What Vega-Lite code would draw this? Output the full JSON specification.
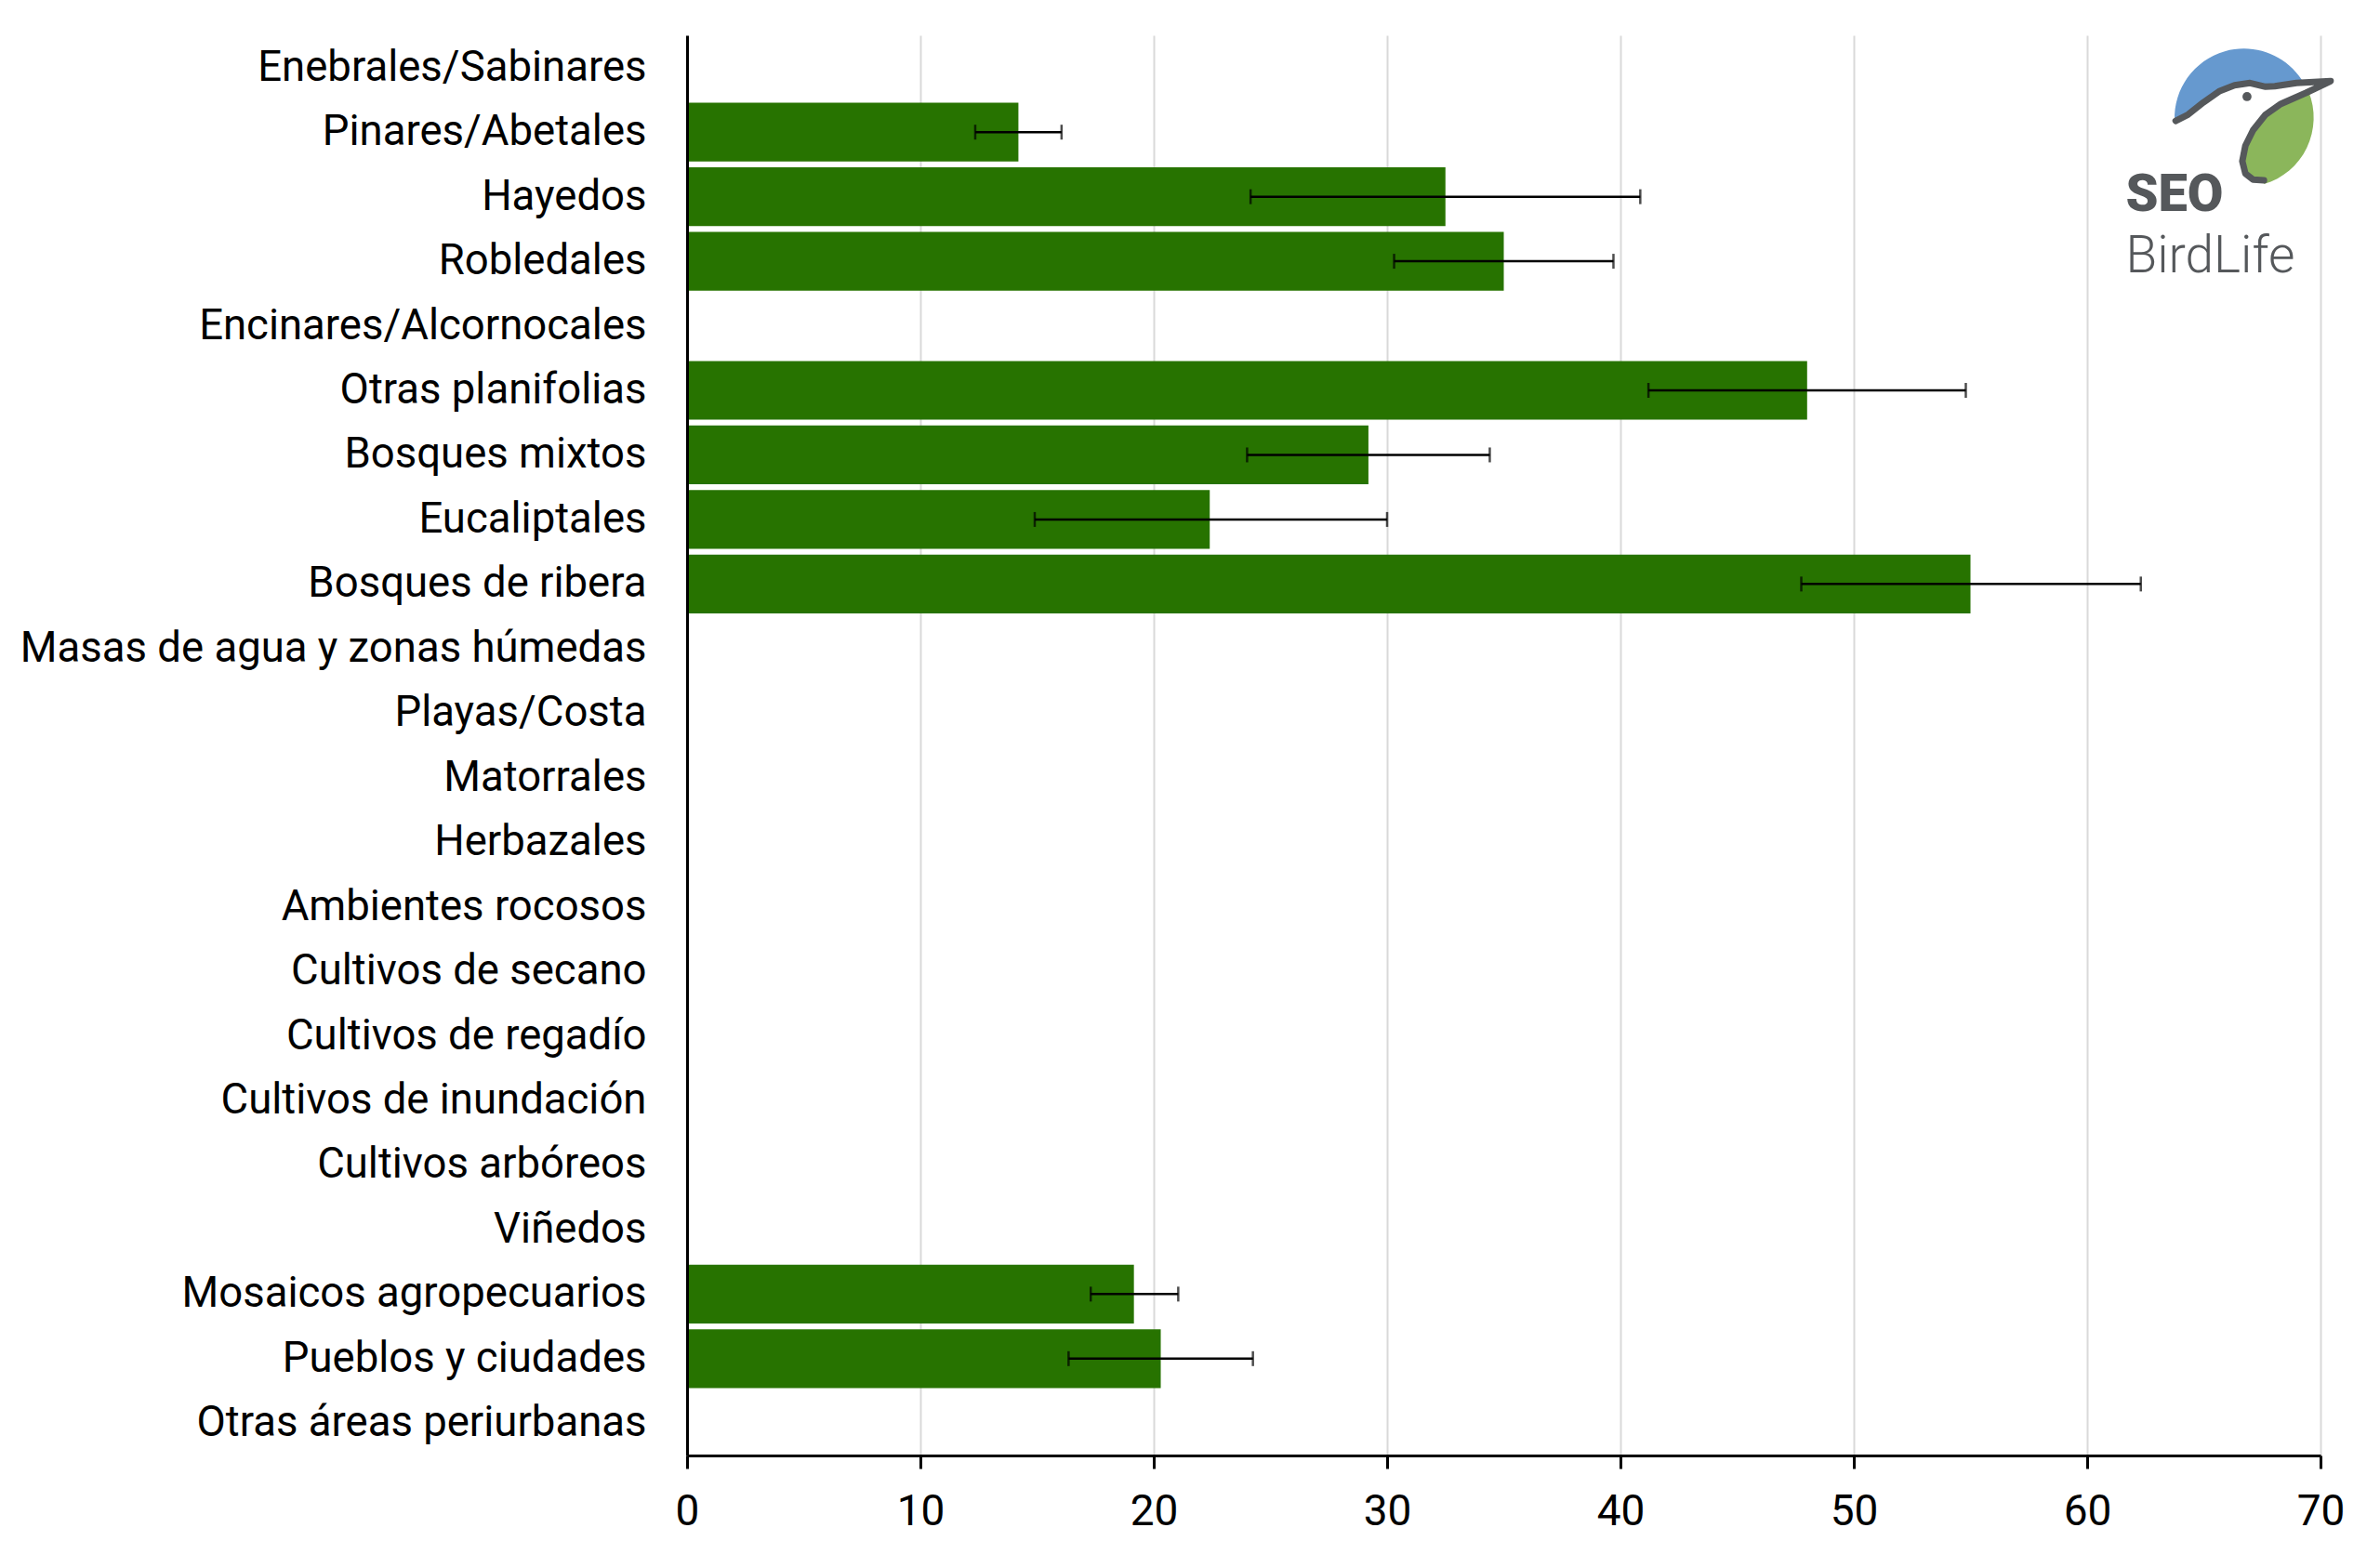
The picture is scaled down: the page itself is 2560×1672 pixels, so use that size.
{
  "$schema": "https://vega.github.io/schema/vega-lite/v6.json",
  "width": 1757,
  "height": 1528,
  "autosize": {"type": "none"},
  "padding": {"left": 739, "top": 38, "right": 64, "bottom": 106},
  "background": "white",
  "config": {"view": {"stroke": null}, "font": "Roboto"},
  "layer": [
    {
      "data": {
        "values": [
          {"cat": "Pinares/Abetales", "val": 14.2, "low": 12.35, "high": 16.05},
          {"cat": "Hayedos", "val": 32.5, "low": 24.15, "high": 40.85},
          {"cat": "Robledales", "val": 35.0, "low": 30.3, "high": 39.7},
          {"cat": "Otras planifolias", "val": 48.0, "low": 41.2, "high": 54.8},
          {"cat": "Bosques mixtos", "val": 29.2, "low": 24.0, "high": 34.4},
          {"cat": "Eucaliptales", "val": 22.4, "low": 14.9, "high": 30.0},
          {"cat": "Bosques de ribera", "val": 55.0, "low": 47.75, "high": 62.3},
          {"cat": "Mosaicos agropecuarios", "val": 19.15, "low": 17.3, "high": 21.05},
          {"cat": "Pueblos y ciudades", "val": 20.3, "low": 16.35, "high": 24.25}
        ]
      },
      "encoding": {
        "y": {
          "field": "cat",
          "type": "nominal",
          "scale": {
            "domain": [
              "Enebrales/Sabinares", "Pinares/Abetales", "Hayedos", "Robledales",
              "Encinares/Alcornocales", "Otras planifolias", "Bosques mixtos",
              "Eucaliptales", "Bosques de ribera", "Masas de agua y zonas húmedas",
              "Playas/Costa", "Matorrales", "Herbazales", "Ambientes rocosos",
              "Cultivos de secano", "Cultivos de regadío", "Cultivos de inundación",
              "Cultivos arbóreos", "Viñedos", "Mosaicos agropecuarios",
              "Pueblos y ciudades", "Otras áreas periurbanas"
            ],
            "paddingInner": 0.09,
            "paddingOuter": 0.045
          },
          "axis": {
            "title": null,
            "ticks": false,
            "grid": false,
            "domainColor": "black",
            "domainWidth": 3,
            "labelFont": "Roboto",
            "labelFontSize": 45.5,
            "labelColor": "black",
            "labelPadding": 44,
            "labelLimit": 1000,
            "zindex": 1
          }
        }
      },
      "layer": [
        {
          "mark": {"type": "bar", "color": "#277300"},
          "encoding": {
            "x": {
              "field": "val",
              "type": "quantitative",
              "scale": {"domain": [0, 70], "nice": false},
              "axis": {
                "title": null,
                "values": [0, 10, 20, 30, 40, 50, 60, 70],
                "grid": true,
                "gridColor": "#d9d9d9",
                "gridWidth": 2,
                "domainColor": "black",
                "domainWidth": 3,
                "tickColor": "black",
                "tickWidth": 3,
                "tickSize": 14,
                "labelFont": "Roboto",
                "labelFontSize": 46,
                "labelColor": "black",
                "labelPadding": 24,
                "labelFlush": false
              }
            }
          }
        },
        {
          "mark": {"type": "rule", "color": "black", "strokeWidth": 2.5},
          "encoding": {
            "x": {"field": "low", "type": "quantitative", "title": null},
            "x2": {"field": "high"}
          }
        },
        {
          "mark": {"type": "tick", "color": "black", "size": 16, "thickness": 2.5},
          "encoding": {"x": {"field": "low", "type": "quantitative", "title": null}}
        },
        {
          "mark": {"type": "tick", "color": "black", "size": 16, "thickness": 2.5},
          "encoding": {"x": {"field": "high", "type": "quantitative", "title": null}}
        }
      ]
    },
    {
      "data": {"values": [{"x": 66.98, "v": 1.224}]},
      "encoding": {
        "x": {"field": "x", "type": "quantitative", "title": null},
        "y": {
          "field": "v",
          "type": "quantitative",
          "scale": {"domain": [0, 22], "reverse": true, "nice": false},
          "axis": null
        }
      },
      "layer": [
        {
          "mark": {
            "type": "point",
            "filled": true,
            "fill": "#6699cf",
            "strokeWidth": 0,
            "opacity": 1,
            "size": 40000,
            "shape": "M -0.81 0.07 A 0.745 0.745 0 0 1 0.582 -0.33 L 0.5 -0.337 L 0.267 -0.303 L 0.167 -0.297 L 0 -0.337 L -0.167 -0.313 L -0.333 -0.247 L -0.5 -0.13 L -0.667 0.003 Z"
          }
        },
        {
          "mark": {
            "type": "point",
            "filled": true,
            "fill": "#8bb65b",
            "strokeWidth": 0,
            "opacity": 1,
            "size": 40000,
            "shape": "M 0.63 -0.245 A 0.745 0.745 0 0 1 0.15 0.75 L 0.15 0.71 L 0.033 0.703 L -0.05 0.637 L -0.083 0.503 L -0.05 0.337 L 0.033 0.17 L 0.167 0.003 L 0.333 -0.113 L 0.6 -0.23 Z"
          }
        },
        {
          "mark": {
            "type": "point",
            "filled": false,
            "stroke": "#55585b",
            "strokeWidth": 7,
            "strokeJoin": "round",
            "strokeCap": "round",
            "opacity": 1,
            "size": 40000,
            "shape": "M -0.8 0.07 L -0.667 0.003 L -0.5 -0.13 L -0.333 -0.247 L -0.167 -0.313 L 0 -0.337 L 0.167 -0.297 L 0.267 -0.303 L 0.5 -0.337 L 0.867 -0.357 L 0.6 -0.23 L 0.333 -0.113 L 0.167 0.003 L 0.033 0.17 L -0.05 0.337 L -0.083 0.503 L -0.05 0.637 L 0.033 0.703 L 0.15 0.71"
          }
        }
      ]
    },
    {
      "data": {"values": [{"x": 66.85, "v": 0.95}]},
      "mark": {"type": "point", "shape": "circle", "filled": true, "color": "#55585b", "opacity": 1, "size": 95},
      "encoding": {
        "x": {"field": "x", "type": "quantitative", "title": null},
        "y": {"field": "v", "type": "quantitative", "scale": {"domain": [0, 22], "reverse": true, "nice": false}, "axis": null}
      }
    },
    {
      "data": {
        "values": [
          {"label": "SEO", "x": 61.65, "v": 2.72},
          {"label": "BirdLife", "x": 61.65, "v": 3.67}
        ]
      },
      "layer": [
        {
          "transform": [{"filter": "datum.label === 'SEO'"}],
          "mark": {"type": "text", "align": "left", "baseline": "alphabetic", "font": "Roboto", "fontWeight": 900, "fontSize": 56, "color": "#55585b"},
          "encoding": {
            "x": {"field": "x", "type": "quantitative", "title": null},
            "y": {"field": "v", "type": "quantitative", "scale": {"domain": [0, 22], "reverse": true, "nice": false}, "axis": null},
            "text": {"field": "label"}
          }
        },
        {
          "transform": [{"filter": "datum.label === 'BirdLife'"}],
          "mark": {"type": "text", "align": "left", "baseline": "alphabetic", "font": "Roboto", "fontWeight": 300, "fontSize": 55, "color": "#55585b"},
          "encoding": {
            "x": {"field": "x", "type": "quantitative", "title": null},
            "y": {"field": "v", "type": "quantitative", "scale": {"domain": [0, 22], "reverse": true, "nice": false}, "axis": null},
            "text": {"field": "label"}
          }
        }
      ]
    }
  ],
  "resolve": {"scale": {"y": "independent"}}
}
